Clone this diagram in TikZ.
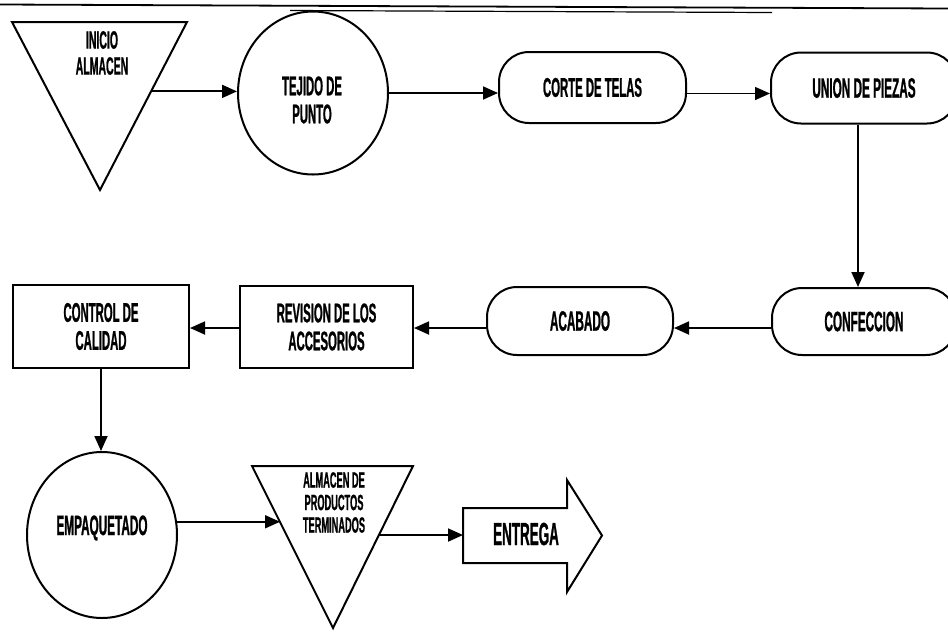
\documentclass[tikz,border=0pt]{standalone}
\usepackage{fontspec}
\setmainfont{Liberation Sans}
\newfontfamily\narrowA{Liberation Sans Bold}[FakeStretch=0.42,FakeBold=0.8]
\newfontfamily\narrowB{Liberation Sans Bold}[FakeStretch=0.42,FakeBold=0.8]
\usetikzlibrary{shapes.geometric,arrows.meta,calc}

\begin{document}
\begin{tikzpicture}[x=1pt,y=-1pt,
  outline/.style={draw=black,line width=2pt},
  pill/.style={outline,rectangle,rounded corners=30pt,inner sep=0pt},
  boxrect/.style={outline,rectangle,inner sep=0pt},
  oval/.style={outline,ellipse,inner sep=0pt},
  lbl/.style={inner sep=0pt,align=center,font=\narrowA\fontsize{28}{29}\selectfont},
  lblB/.style={inner sep=0pt,align=center,font=\narrowB\fontsize{27}{28}\selectfont},
  flow/.style={line width=1.8pt,-{Triangle[length=15pt,width=13pt]}},
]
\useasboundingbox (0,0) rectangle (948,633);
\fill[white] (0,0) rectangle (948,633);

% page rules along the top
\draw[line width=1.8pt] (0,4.5) -- (948,8.5);
\draw[line width=1.2pt] (290,10.5) -- (772,12.5);

% first row
\coordinate (t1l) at (12,22);
\coordinate (t1r) at (187,22);
\coordinate (t1a) at (100,190);
\draw[outline,line join=miter] (t1l) -- (t1r) -- (t1a) -- cycle;
\node[lbl,font=\narrowA\fontsize{25}{26}\selectfont] (t1txt) at (102,53) {INICIO\\ALMACEN};
\coordinate (t1out) at ($(t1r)!0.413!(t1a)$);

\node[oval,minimum width=150pt,minimum height=163pt] (tej) at (313,93) {};
\node[lblB] (tejtxt) at (312,100) {TEJIDO DE\\PUNTO};

\node[pill,lblB,minimum width=187pt,minimum height=71pt] (corte) at (592.5,87.5) {CORTE DE TELAS};
\node[pill,lbl,minimum width=186pt,minimum height=71pt] (union) at (864,88) {UNION DE PIEZAS};

% second row
\node[pill,lbl,minimum width=184pt,minimum height=67pt] (conf) at (864,321.5) {CONFECCION};
\node[pill,lbl,minimum width=186pt,minimum height=68pt] (acab) at (580,321) {ACABADO};
\node[boxrect,lblB,minimum width=173pt,minimum height=82pt] (rev) at (326.5,327) {REVISION DE LOS\\ACCESORIOS};
\node[boxrect,lblB,minimum width=176pt,minimum height=83pt] (ctrl) at (101,326.5) {CONTROL DE\\CALIDAD};

% third row
\node[oval,minimum width=150pt,minimum height=166pt] (emp) at (102,535) {};
\node[lbl] (emptxt) at (102,528) {EMPAQUETADO};

\coordinate (t2l) at (252,466);
\coordinate (t2r) at (413,466);
\coordinate (t2a) at (333,628);
\draw[outline,line join=miter] (t2l) -- (t2r) -- (t2a) -- cycle;
\node[lbl,font=\narrowA\fontsize{22}{22.5}\selectfont] (t2txt) at (334,502.5) {ALMACEN DE\\PRODUCTOS\\TERMINADOS};
\coordinate (t2in) at ($(t2l)!0.3457!(t2a)$);
\coordinate (t2out) at ($(t2r)!0.426!(t2a)$);

\coordinate (entL) at (463,535.5);
\draw[outline,line join=miter] (463,508) -- (567,508) -- (567,480) -- (602,535.5)
  -- (567,592) -- (567,563) -- (463,563) -- cycle;
\node[lbl,font=\narrowA\fontsize{32}{30}\selectfont] (enttxt) at (526,534) {ENTREGA};

% connectors
\draw[flow] (t1out) -- (t1out -| tej.west);
\draw[flow] (tej.east) -- (tej.east -| corte.west);
\draw[flow,line width=1.4pt] ([yshift=-6pt]corte.east) -- ([yshift=-6pt]corte.east -| union.west);
\draw[flow] ([xshift=-6pt]union.south) -- ([xshift=-6pt]union.south |- conf.north);
\draw[flow] ([yshift=-6.5pt]conf.west) -- ([yshift=-6.5pt]conf.west -| acab.east);
\draw[flow] ([yshift=-7pt]acab.west) -- ([yshift=-7pt]acab.west -| rev.east);
\draw[flow] ([yshift=-1pt]rev.west) -- ([yshift=-1pt]rev.west -| ctrl.east);
\draw[flow] (ctrl.south) -- (ctrl.south |- emp.north);
\draw[flow] (emp.10) -- (emp.10 -| t2in);
\draw[flow] (t2out) -- (t2out -| entL);
\end{tikzpicture}
\end{document}
